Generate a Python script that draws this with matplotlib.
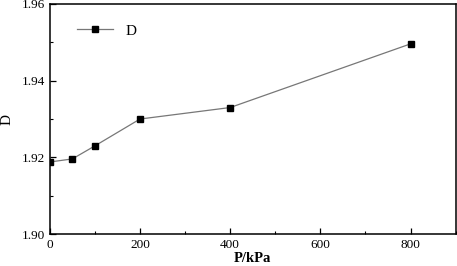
import matplotlib
matplotlib.use("Agg")
import matplotlib.pyplot as plt
from matplotlib.ticker import MultipleLocator

# data
pressure = [0, 50, 100, 200, 400, 800]
d_values = [1.9188, 1.9196, 1.9230, 1.9300, 1.9330, 1.9496]

plt.rcParams['font.family'] = ['Liberation Serif', 'DejaVu Serif']

fig = plt.figure(figsize=(4.57, 2.66), dpi=100)
ax = fig.add_axes([0.109, 0.12, 0.888, 0.865])

ax.plot(pressure, d_values, color='#777777', lw=0.9, marker='s', ms=5,
        mfc='black', mec='black', label='D')

ax.set_xlim(0, 900)
ax.set_ylim(1.90, 1.96)
ax.xaxis.set_major_locator(MultipleLocator(200))
ax.xaxis.set_minor_locator(MultipleLocator(100))
ax.yaxis.set_major_locator(MultipleLocator(0.02))
ax.yaxis.set_minor_locator(MultipleLocator(0.01))
ax.yaxis.set_major_formatter(matplotlib.ticker.FormatStrFormatter('%.2f'))
ax.tick_params(which='both', direction='in', labelsize=9.5, top=False, right=False)
ax.tick_params(which='major', length=4, width=0.9)
ax.tick_params(which='minor', length=2, width=0.8)
for s in ax.spines.values():
    s.set_linewidth(1.1)

ax.set_xlabel('P/kPa', fontsize=10.5, fontweight='bold', labelpad=1)
ax.set_ylabel('D', fontsize=11, labelpad=6)

ax.legend(loc='upper left', frameon=False, fontsize=11, bbox_to_anchor=(0.04, 0.96),
          handlelength=2.4, borderaxespad=0.3)

fig.savefig('out.png', dpi=100)
